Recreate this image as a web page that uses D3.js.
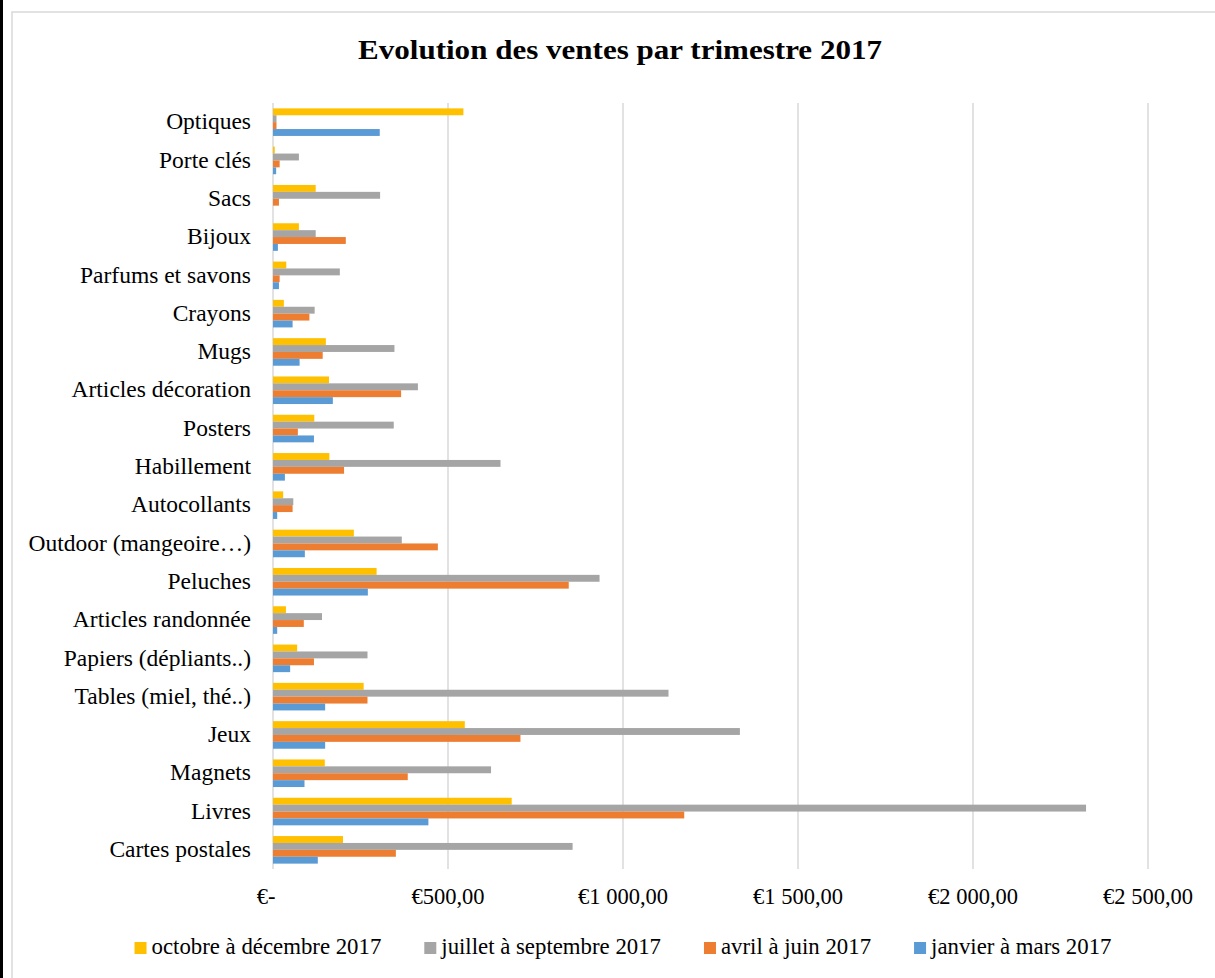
<!DOCTYPE html>
<html>
<head>
<meta charset="utf-8">
<script src="https://cdn.jsdelivr.net/npm/d3@7"></script>
<style>
  html, body { margin: 0; padding: 0; background: #fff; }
  svg { display: block; }
  text { font-family: "Liberation Serif", "DejaVu Serif", serif; fill: #000; }
</style>
</head>
<body>
<svg id="chart" width="1215" height="978"></svg>
<script>
const categories = ["Optiques","Porte clés","Sacs","Bijoux","Parfums et savons","Crayons","Mugs","Articles décoration","Posters","Habillement","Autocollants","Outdoor (mangeoire…)","Peluches","Articles randonnée","Papiers (dépliants..)","Tables (miel, thé..)","Jeux","Magnets","Livres","Cartes postales"];
const seriesNames = ["octobre à décembre 2017","juillet à septembre 2017","avril à juin 2017","janvier à mars 2017"];
const seriesColors = ["#FFC000","#A5A5A5","#ED7D31","#5B9BD5"];
const octDec = [544,5,122,74,38,31,151,160,118,161,29,231,296,37,69,259,548,148,682,200];
const julSep = [10,74,306,122,191,119,347,414,345,650,58,368,933,140,270,1130,1334,623,2323,856];
const avrJun = [10,19,17,208,19,104,142,366,71,203,56,471,845,88,117,270,707,385,1175,351];
const janMar = [305,9,0,14,17,56,76,171,117,34,12,91,271,12,49,149,149,90,444,128];
const tickValues = [0,500,1000,1500,2000,2500];
const title = "Evolution des ventes par trimestre 2017";

const seriesValues = [octDec, julSep, avrJun, janMar];

const svg = d3.select("#chart");
// outer left black line and chart frame
svg.append("rect").attr("x",0).attr("y",0).attr("width",3).attr("height",978).attr("fill","#000");
svg.append("rect").attr("x",12).attr("y",12).attr("width",1230).attr("height",1000)
  .attr("fill","none").attr("stroke","#d9d9d9").attr("stroke-width",1.5);

const plot = {left:273, right:1148, top:103, bottom:869};

const x = d3.scaleLinear().domain([0,2500]).range([plot.left, plot.right]);
const y = d3.scaleBand().domain(categories).range([plot.top, plot.bottom]).paddingInner(0.28).paddingOuter(0.14);
const ySub = d3.scaleBand().domain(d3.range(seriesNames.length)).range([0, y.bandwidth()]);

const locale = d3.formatLocale({decimal:",", thousands:"\u00a0", grouping:[3], currency:["€",""]});
const fmt = locale.format("$,.2f");

// gridlines
svg.append("g").selectAll("line").data(tickValues).join("line")
  .attr("x1", d => x(d)).attr("x2", d => x(d))
  .attr("y1", plot.top).attr("y2", plot.bottom)
  .attr("stroke","#d9d9d9").attr("stroke-width",1.5);

// bars
const groups = svg.append("g").selectAll("g").data(categories).join("g")
  .attr("transform", c => `translate(0,${y(c)})`);
groups.selectAll("rect").data((c,i) => seriesValues.map((arr,s) => ({s, v: arr[i]}))).join("rect")
  .attr("x", x(0))
  .attr("y", d => ySub(d.s))
  .attr("width", d => Math.max(0, x(d.v) - x(0)))
  .attr("height", ySub.bandwidth())
  .attr("fill", d => seriesColors[d.s]);

// category labels
svg.append("g").selectAll("text").data(categories).join("text")
  .attr("x", 251).attr("y", c => y(c) + y.bandwidth()/2 - 1)
  .attr("dy","0.35em").attr("text-anchor","end")
  .attr("font-size", 23.5).text(c => c);

// x tick labels
svg.append("g").selectAll("text").data(tickValues).join("text")
  .attr("x", d => x(d) + (d === 0 ? -7 : 0)).attr("y", 904)
  .attr("text-anchor","middle").attr("font-size", 22.5)
  .text(d => d === 0 ? "€-" : fmt(d));

// title
svg.append("text").attr("x", 620).attr("y", 59).attr("text-anchor","middle")
  .attr("font-size", 28).attr("font-weight","bold")
  .attr("textLength", 524).attr("lengthAdjust","spacingAndGlyphs").text(title);

// legend
const lg = svg.append("g");
const items = lg.selectAll("g").data(seriesNames).join("g");
items.append("rect").attr("width",12).attr("height",12).attr("y",-12).attr("fill",(d,i)=>seriesColors[i]);
items.append("text").attr("x",17).attr("font-size",22.8).text(d => d);
let widths = [];
items.each(function(){ widths.push(17 + d3.select(this).select("text").node().getComputedTextLength()); });
const gap = 43;
const total = d3.sum(widths) + gap*(widths.length-1);
let cx = 623 - total/2;
items.each(function(d,i){ d3.select(this).attr("transform", `translate(${cx},954)`); cx += widths[i] + gap; });
</script>
</body>
</html>
